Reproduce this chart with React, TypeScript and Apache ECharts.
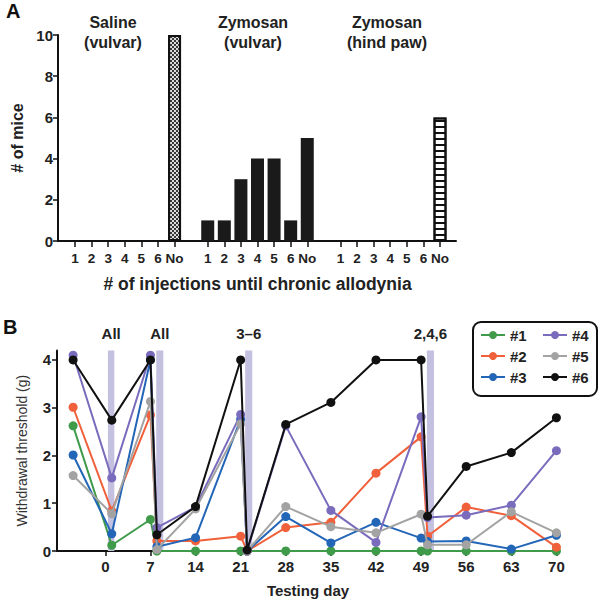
import React, { useEffect, useRef } from 'react';
import * as echarts from 'echarts';

// ---------- Panel A data ----------
const injectionCategories = ['1', '2', '3', '4', '5', '6', 'No'];
const salineVulvar = [0, 0, 0, 0, 0, 0, 10];
const zymosanVulvar = [1, 1, 3, 4, 4, 1, 5];
const zymosanHindPaw = [0, 0, 0, 0, 0, 0, 6];
const groupTitles = ['Saline\n(vulvar)', 'Zymosan\n(vulvar)', 'Zymosan\n(hind paw)'];

// ---------- Panel B data ----------
const testingDays = [-5, 1, 7, 8, 14, 21, 22, 28, 35, 42, 49, 50, 56, 63, 70];
const mouse1 = [2.62, 0.12, 0.66, 0, 0, 0, 0, 0, 0, 0, 0, 0, 0, 0, 0];
const mouse2 = [3.01, 0.84, 2.85, 0.21, 0.21, 0.31, 0, 0.49, 0.6, 1.63, 2.39, 0.31, 0.92, 0.74, 0.08];
const mouse3 = [2.01, 0.36, 4.0, 0.09, 0.28, 2.76, 0, 0.72, 0.17, 0.6, 0.27, 0.2, 0.21, 0.04, 0.33];
const mouse4 = [4.1, 1.53, 4.1, 0.49, 0.92, 2.86, 0, 2.62, 0.85, 0.18, 2.81, 0.7, 0.75, 0.96, 2.1];
const mouse5 = [1.58, 0.78, 3.13, 0.03, 0.88, 2.66, 0, 0.93, 0.51, 0.38, 0.77, 0.13, 0.13, 0.82, 0.38];
const mouse6 = [4.0, 2.74, 4.0, 0.34, 0.93, 4.0, 0.02, 2.65, 3.11, 4.0, 4.0, 0.73, 1.77, 2.06, 2.79];
const mouseNames = ['#1', '#2', '#3', '#4', '#5', '#6'];
const mouseColors = ['#3f9a4a', '#f0603a', '#2366b8', '#7a6bbd', '#a3a3a3', '#111111'];
const injectionStart = [0.4, 7.9, 21.7, 49.9];
const injectionEnd = [1.4, 9.0, 22.8, 51.0];
const injectionLabels = ['All', 'All', '3–6', '2,4,6'];
const dayTicks = [0, 7, 14, 21, 28, 35, 42, 49, 56, 63, 70];
const thresholdTicks = [0, 1, 2, 3, 4];

const FONT = "'Liberation Sans', Arial, Helvetica, sans-serif";
const TXT = '#222';

export default function App() {
  const ref = useRef<HTMLDivElement>(null);

  useEffect(() => {
    if (!ref.current) return;
    const chart = echarts.init(ref.current, undefined, { renderer: 'svg' });

    const blackStyle = { color: '#1a1a1a' };
    const checkerStyle = {
      color: '#dcdcdc',
      borderColor: '#111',
      borderWidth: 2,
      decal: {
        symbol: 'rect',
        symbolSize: 1,
        color: '#3a3a3a',
        dashArrayX: [[2, 2], [0, 2, 2, 0]],
        dashArrayY: [2, 0],
        rotation: 0,
      },
    };
    const ladderStyle = {
      color: '#ffffff',
      borderColor: '#111',
      borderWidth: 2,
      decal: {
        symbol: 'rect',
        symbolSize: 1,
        color: '#111',
        dashArrayX: [1, 0],
        dashArrayY: [1.5, 3.5],
        rotation: 0,
      },
    };

    const categories = [...injectionCategories, '', ...injectionCategories, '', ...injectionCategories];
    const barData: any[] = [
      ...salineVulvar.map((v, i) => ({ value: v, itemStyle: i === 6 ? checkerStyle : blackStyle })),
      '-',
      ...zymosanVulvar.map((v) => ({ value: v, itemStyle: blackStyle })),
      '-',
      ...zymosanHindPaw.map((v, i) => ({ value: v, itemStyle: i === 6 ? ladderStyle : blackStyle })),
    ];

    const mice = [mouse1, mouse2, mouse3, mouse4, mouse5, mouse6];

    const lineSeries = mice.map((vals, k) => ({
      name: mouseNames[k],
      type: 'line',
      xAxisIndex: 2,
      yAxisIndex: 2,
      z: 3 + k,
      data: testingDays.map((d, i) => [d, vals[i]]),
      symbol: 'circle',
      symbolSize: 9,
      color: mouseColors[k],
      lineStyle: { width: 2, color: mouseColors[k] },
      itemStyle: { color: mouseColors[k] },
    }));

    const groupCenters = [113, 253, 387];

    const option: any = {
      animation: false,
      backgroundColor: '#fff',
      textStyle: { fontFamily: FONT },
      grid: [
        { left: 58, top: 35, width: 398, height: 206 },
        { left: 66.7, top: 35, width: 381.6, height: 206 },
        { left: 57, top: 350.4, width: 502, height: 200.6 },
      ],
      xAxis: [
        {
          gridIndex: 0,
          type: 'value',
          min: 0,
          max: 1,
          axisLine: { show: true, onZero: false, lineStyle: { color: '#111', width: 2 } },
          axisTick: { show: false },
          axisLabel: { show: false },
          splitLine: { show: false },
        },
        {
          gridIndex: 1,
          type: 'category',
          data: categories,
          axisLine: { show: false },
          axisTick: {
            show: true,
            alignWithLabel: true,
            length: 6,
            interval: (idx: number, val: string) => val !== '',
            lineStyle: { color: '#111', width: 1.5 },
          },
          axisLabel: {
            interval: 0,
            margin: 10,
            fontFamily: FONT,
            fontWeight: 'bold',
            fontSize: 13.5,
            color: TXT,
          },
          name: '# of injections until chronic allodynia',
          nameLocation: 'middle',
          nameGap: 34,
          nameTextStyle: { fontFamily: FONT, fontWeight: 'bold', fontSize: 17.5, color: TXT },
        },
        {
          gridIndex: 2,
          type: 'value',
          min: -7.5,
          max: 70.4,
          axisLine: { show: true, onZero: false, lineStyle: { color: '#111', width: 2 } },
          axisTick: { show: true, length: 5, customValues: dayTicks, lineStyle: { color: '#111', width: 1.5 } },
          axisLabel: {
            customValues: dayTicks,
            margin: 8,
            fontFamily: FONT,
            fontWeight: 'bold',
            fontSize: 15,
            color: TXT,
          },
          splitLine: { show: false },
          name: 'Testing day',
          nameLocation: 'middle',
          nameGap: 32,
          nameTextStyle: { fontFamily: FONT, fontWeight: 'bold', fontSize: 15, color: TXT },
        },
      ],
      yAxis: [
        {
          gridIndex: 0,
          type: 'value',
          min: 0,
          max: 10,
          interval: 2,
          axisLine: { show: true, onZero: false, lineStyle: { color: '#111', width: 2 } },
          axisTick: { show: true, length: 5, lineStyle: { color: '#111', width: 1.5 } },
          axisLabel: { margin: 5, fontFamily: FONT, fontWeight: 'bold', fontSize: 15, color: TXT },
          splitLine: { show: false },
          name: '# of mice',
          nameLocation: 'middle',
          nameGap: 28,
          nameTextStyle: { fontFamily: FONT, fontWeight: 'bold', fontSize: 16, color: TXT },
        },
        {
          gridIndex: 1,
          type: 'value',
          min: 0,
          max: 10,
          show: false,
        },
        {
          gridIndex: 2,
          type: 'value',
          min: 0,
          max: 4.2,
          axisLine: { show: true, onZero: false, lineStyle: { color: '#111', width: 2 } },
          axisTick: { show: true, length: 5, customValues: thresholdTicks, lineStyle: { color: '#111', width: 1.5 } },
          axisLabel: {
            customValues: thresholdTicks,
            margin: 6,
            fontFamily: FONT,
            fontWeight: 'bold',
            fontSize: 15,
            color: TXT,
          },
          splitLine: { show: false },
          name: 'Withdrawal threshold (g)',
          nameLocation: 'middle',
          nameGap: 28,
          nameTextStyle: { fontFamily: FONT, fontSize: 14, color: '#333' },
        },
      ],
      legend: [
        {
          left: 480,
          top: 327.5,
          padding: 0,
          orient: 'vertical',
          itemWidth: 24,
          itemHeight: 10,
          itemGap: 6,
          selectedMode: false,
          data: mouseNames.slice(0, 3),
          textStyle: { fontFamily: FONT, fontWeight: 'bold', fontSize: 15, lineHeight: 15, color: TXT },
        },
        {
          left: 542,
          top: 327.5,
          padding: 0,
          orient: 'vertical',
          itemWidth: 24,
          itemHeight: 10,
          itemGap: 6,
          selectedMode: false,
          data: mouseNames.slice(3, 6),
          textStyle: { fontFamily: FONT, fontWeight: 'bold', fontSize: 15, lineHeight: 15, color: TXT },
        },
      ],
      graphic: [
        { type: 'text', left: 6, top: 1, style: { text: 'A', font: `bold 20px ${FONT}`, fill: '#111' } },
        { type: 'text', left: 3, top: 317, style: { text: 'B', font: `bold 20px ${FONT}`, fill: '#111' } },
        ...groupTitles.map((t, i) => ({
          type: 'text',
          x: groupCenters[i],
          y: 12,
          style: {
            text: t,
            font: `bold 16px ${FONT}`,
            lineHeight: 20,
            textAlign: 'center',
            textVerticalAlign: 'top',
            fill: TXT,
          },
        })),
        {
          type: 'rect',
          shape: { x: 473, y: 322, width: 124, height: 74, r: 8 },
          style: { fill: 'none', stroke: '#111', lineWidth: 2 },
          z: 10,
        },
      ],
      series: [
        {
          type: 'bar',
          xAxisIndex: 1,
          yAxisIndex: 1,
          barWidth: 13,
          data: barData,
        },
        {
          type: 'line',
          name: 'bands',
          xAxisIndex: 2,
          yAxisIndex: 2,
          z: 1,
          data: [],
          markArea: {
            silent: true,
            itemStyle: { color: '#c4c0e0' },
            label: {
              show: true,
              position: 'top',
              distance: 9,
              fontFamily: FONT,
              fontWeight: 'bold',
              fontSize: 15,
              color: TXT,
            },
            data: injectionStart.map((s, i) => [
              { xAxis: s, name: injectionLabels[i] },
              { xAxis: injectionEnd[i] },
            ]),
          },
        },
        ...lineSeries,
      ],
    };

    chart.setOption(option);
    return () => chart.dispose();
  }, []);

  return (
    <div
      ref={ref}
      style={{ position: 'fixed', left: 0, top: 0, width: 600, height: 600, background: '#fff' }}
    />
  );
}
